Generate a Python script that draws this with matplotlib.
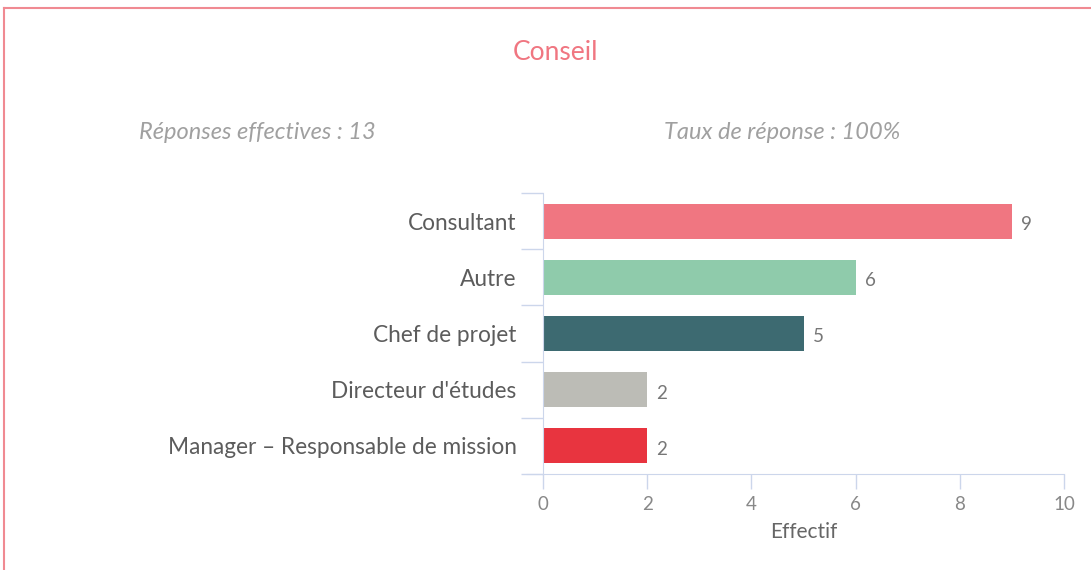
import matplotlib.pyplot as plt
from matplotlib.lines import Line2D

categories = ['Consultant', 'Autre', 'Chef de projet', "Directeur d'études",
              'Manager – Responsable de mission']
values = [9, 6, 5, 2, 2]
colors = ['#f07681', '#8fcbab', '#3d6a71', '#bcbcb6', '#e8343f']
x_ticks = [0, 2, 4, 6, 8, 10]

plt.rcParams['font.family'] = ['Lato', 'DejaVu Sans']

fig = plt.figure(figsize=(10.91, 5.70), dpi=100)
ax = fig.add_axes([543 / 1091, 1 - 474 / 570, (1064 - 543) / 1091, (474 - 193) / 570])

pos = list(range(len(categories)))
ax.barh(pos, values, height=0.62, color=colors)
for p, v in zip(pos, values):
    ax.text(v + 0.18, p + 0.06, str(v), va='center', ha='left', fontsize=13.5, color='#777777')

axis_col = '#ccd6eb'
ax.set_xlim(0, 10)
ax.set_ylim(len(categories) - 0.5, -0.5)
ax.set_xticks(x_ticks)
ax.set_xticklabels([str(t) for t in x_ticks])
ax.set_yticks(pos)
ax.set_yticklabels(categories)
ax.tick_params(axis='y', length=0, pad=19, labelsize=16.3, labelcolor='#5c5c5c')
ax.tick_params(axis='x', length=11, width=1, color=axis_col, pad=5, labelsize=13.5, labelcolor='#888888')
# category boundary ticks on the y axis
ax.set_yticks([p - 0.5 for p in pos] + [len(pos) - 0.5], minor=True)
ax.tick_params(axis='y', which='minor', length=16, width=1, color=axis_col)

for s in ['top', 'right']:
    ax.spines[s].set_visible(False)
ax.spines['left'].set_color(axis_col)
ax.spines['bottom'].set_color(axis_col)
ax.spines['bottom'].set_bounds(-0.31, 10)
ax.set_xlabel('Effectif', fontsize=15, color='#666666', labelpad=6)

fig.text(555 / 1091, 1 - 53 / 570, 'Conseil', ha='center', va='center', fontsize=19,
         color='#f07681')
fig.text(257 / 1091, 1 - 132 / 570, 'Réponses effectives : 13', ha='center', va='center',
         fontsize=17, style='italic', color='#a0a0a0')
fig.text(782 / 1091, 1 - 132 / 570, 'Taux de réponse : 100%', ha='center', va='center',
         fontsize=17, style='italic', color='#a0a0a0')

# frame border
border = '#f08a92'
fig.add_artist(Line2D([4 / 1091, 1], [1 - 8 / 570, 1 - 8 / 570], color=border, lw=1.5, transform=fig.transFigure))
fig.add_artist(Line2D([4 / 1091, 4 / 1091], [0, 1 - 8 / 570], color=border, lw=1.5, transform=fig.transFigure))

fig.savefig('out.png', dpi=100)
